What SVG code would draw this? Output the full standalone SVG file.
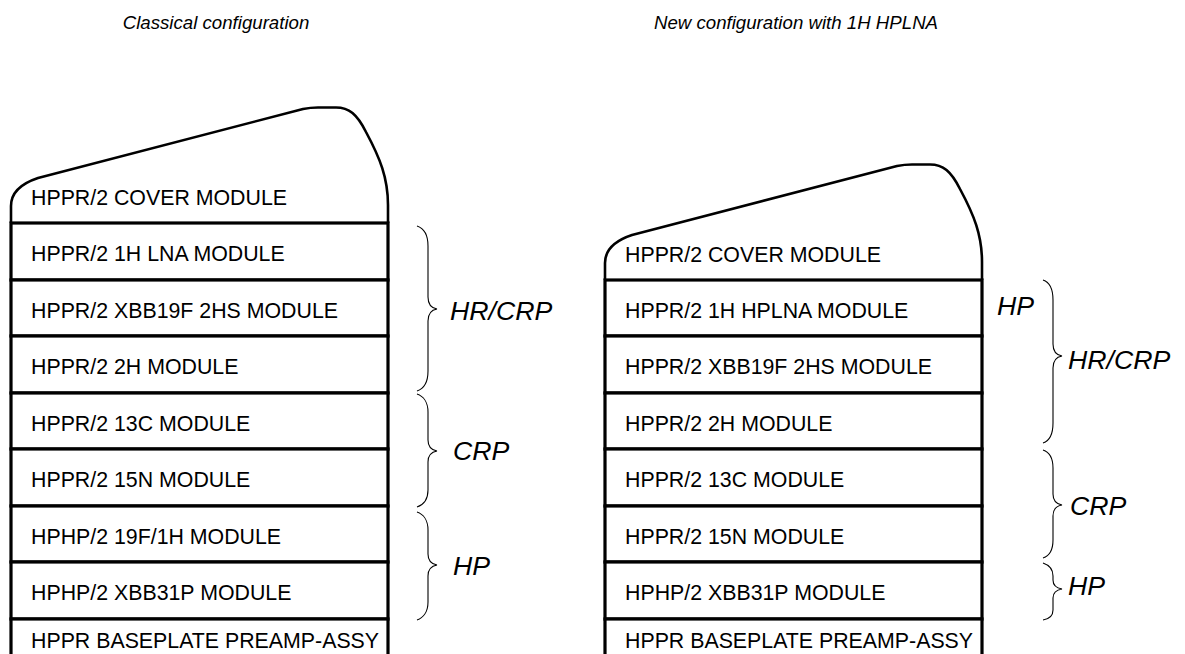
<svg xmlns="http://www.w3.org/2000/svg" width="1185" height="654" viewBox="0 0 1185 654">
<style>
.bg{fill:#fff}
.mod{fill:#fff;stroke:#000;stroke-width:3.2}
.cov{fill:#fff;stroke:#000;stroke-width:2.6;stroke-linejoin:round}
.t{font-family:"Liberation Sans",Arial,sans-serif;font-size:21.33px;fill:#000}
.ttl{font-family:"Liberation Sans",Arial,sans-serif;font-size:18.67px;font-style:italic;fill:#000}
.lbl{font-family:"Liberation Sans",Arial,sans-serif;font-size:26.67px;font-style:italic;fill:#000}
.br{fill:none;stroke:#000;stroke-width:1.1}
</style>
<defs>
<path id="coverShape" d="M11,223 V206 C11,194 20,184 38,178 L303,109 C308,108 312,107.5 318,107.5 H336 C349,107.5 357,114 366,132 C380,158 388,178 388,205 V223"/>
</defs>
<rect class="bg" x="0" y="0" width="1185" height="654"/>
<g id="titles">
<text class="ttl" x="216" y="29" text-anchor="middle">Classical configuration</text>
<text class="ttl" x="796" y="29" text-anchor="middle">New configuration with 1H HPLNA</text>
</g>
<!-- Left stack -->
<g id="L-cover"><use href="#coverShape" class="cov"/><text class="t" x="31" y="205">HPPR/2 COVER MODULE</text></g>
<g id="L-1hlna"><rect class="mod" x="11" y="223" width="377" height="57"/><text class="t" x="31" y="261">HPPR/2 1H LNA MODULE</text></g>
<g id="L-xbb19f"><rect class="mod" x="11" y="280" width="377" height="56"/><text class="t" x="31" y="318">HPPR/2 XBB19F 2HS MODULE</text></g>
<g id="L-2h"><rect class="mod" x="11" y="336" width="377" height="57"/><text class="t" x="31" y="374">HPPR/2 2H MODULE</text></g>
<g id="L-13c"><rect class="mod" x="11" y="393" width="377" height="56"/><text class="t" x="31" y="431">HPPR/2 13C MODULE</text></g>
<g id="L-15n"><rect class="mod" x="11" y="449" width="377" height="57"/><text class="t" x="31" y="487">HPPR/2 15N MODULE</text></g>
<g id="L-19f1h"><rect class="mod" x="11" y="506" width="377" height="56"/><text class="t" x="31" y="544">HPHP/2 19F/1H MODULE</text></g>
<g id="L-xbb31p"><rect class="mod" x="11" y="562" width="377" height="57"/><text class="t" x="31" y="600">HPHP/2 XBB31P MODULE</text></g>
<g id="L-base"><rect class="mod" x="11" y="619" width="377" height="50"/><text class="t" x="31" y="648">HPPR BASEPLATE PREAMP-ASSY</text></g>
<!-- Right stack -->
<g id="R-cover"><use href="#coverShape" class="cov" transform="translate(594,57)"/><text class="t" x="625" y="262">HPPR/2 COVER MODULE</text></g>
<g id="R-1hhplna"><rect class="mod" x="605" y="280" width="377" height="56"/><text class="t" x="625" y="318">HPPR/2 1H HPLNA MODULE</text></g>
<g id="R-xbb19f"><rect class="mod" x="605" y="336" width="377" height="57"/><text class="t" x="625" y="374">HPPR/2 XBB19F 2HS MODULE</text></g>
<g id="R-2h"><rect class="mod" x="605" y="393" width="377" height="56"/><text class="t" x="625" y="431">HPPR/2 2H MODULE</text></g>
<g id="R-13c"><rect class="mod" x="605" y="449" width="377" height="57"/><text class="t" x="625" y="487">HPPR/2 13C MODULE</text></g>
<g id="R-15n"><rect class="mod" x="605" y="506" width="377" height="56"/><text class="t" x="625" y="544">HPPR/2 15N MODULE</text></g>
<g id="R-xbb31p"><rect class="mod" x="605" y="562" width="377" height="57"/><text class="t" x="625" y="600">HPHP/2 XBB31P MODULE</text></g>
<g id="R-base"><rect class="mod" x="605" y="619" width="377" height="50"/><text class="t" x="625" y="648">HPPR BASEPLATE PREAMP-ASSY</text></g>
<!-- Braces -->
<g id="connectors">
<path class="br" d="M417,226 C423,228 428,234 428,246 L428,297 C428,304 431,308 437,309 C431,310 428,314 428,321 L428,371 C428,383 423,389 417,391"/>
<path class="br" d="M417,394 C423,396 428,402 428,412 L428,440 C428,446 431,450 437,451 C431,452 428,456 428,462 L428,490 C428,500 423,505 417,507"/>
<path class="br" d="M417,512 C423,514 428,520 428,530 L428,554 C428,560 431,564 437,565 C431,566 428,570 428,576 L428,602 C428,612 423,618 417,620"/>
<path class="br" d="M1043,280 C1049,282 1053,288 1053,300 L1053,344 C1053,351 1056,355 1062,356 C1056,357 1053,361 1053,368 L1053,423 C1053,435 1049,441 1043,443"/>
<path class="br" d="M1043,450 C1049,452 1053,458 1053,468 L1053,494 C1053,500 1056,504 1062,505 C1056,506 1053,510 1053,516 L1053,540 C1053,550 1049,556 1043,558"/>
<path class="br" d="M1043,563 C1049,565 1053,569 1053,576 L1053,580 C1053,585 1056,588 1062,589 C1056,590 1053,593 1053,598 L1053,610 C1053,616 1049,619 1043,620"/>
</g>
<g id="labels">
<text class="lbl" x="450" y="320">HR/CRP</text>
<text class="lbl" x="453" y="460">CRP</text>
<text class="lbl" x="453" y="575">HP</text>
<text class="lbl" x="997" y="315">HP</text>
<text class="lbl" x="1068" y="369">HR/CRP</text>
<text class="lbl" x="1070" y="515">CRP</text>
<text class="lbl" x="1068" y="595">HP</text>
</g>
</svg>
